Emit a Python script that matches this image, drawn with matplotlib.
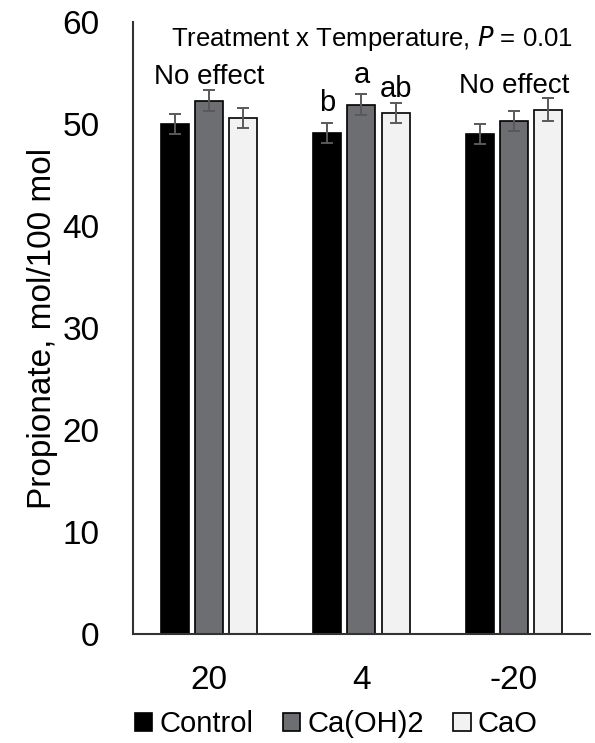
import numpy as np
import matplotlib.pyplot as plt

plt.rcParams['font.family'] = ['Liberation Sans', 'DejaVu Sans']

temperatures = ['20', '4', '-20']
treatments = ['Control', 'Ca(OH)2', 'CaO']
colors = ['#000000', '#6d6e71', '#f2f2f2']

# means per treatment, one value per temperature
means = {
    'Control': [50.0, 49.1, 49.0],
    'Ca(OH)2': [52.3, 51.9, 50.3],
    'CaO': [50.6, 51.1, 51.4],
}
errors = {
    'Control': [1.0, 1.0, 1.0],
    'Ca(OH)2': [1.0, 1.0, 1.0],
    'CaO': [1.0, 1.0, 1.1],
}

# letters over bars at 4 degrees
letters_4 = ['b', 'a', 'ab']

fig = plt.figure(figsize=(5.95, 7.43), dpi=100)
ax = fig.add_axes([0.2235, 0.1467, 0.768, 0.8237])

x = np.arange(len(temperatures))
width = 0.184
step = 0.224
for i, t in enumerate(treatments):
    ax.bar(x + (i - 1) * step, means[t], width, color=colors[i],
           edgecolor='black', linewidth=1.2, label=t, zorder=2)
    ax.errorbar(x + (i - 1) * step, means[t], yerr=errors[t], fmt='none',
                ecolor='#595959', elinewidth=1.4, capsize=4, capthick=1.4,
                zorder=3)

ax.set_ylim(0, 60)
ax.set_xlim(-0.5, 2.5)
ax.set_yticks(range(0, 61, 10))
ax.set_xticks(x)
ax.set_xticklabels(temperatures)
ax.tick_params(axis='both', length=0, labelsize=24)
ax.tick_params(axis='y', pad=24)
ax.tick_params(axis='x', pad=22)
for s in ['top', 'right']:
    ax.spines[s].set_visible(False)
for s in ['left', 'bottom']:
    ax.spines[s].set_color('#333333')
    ax.spines[s].set_linewidth(1.5)

ax.set_ylabel('Propionate, mol/100 mol', fontsize=24)
ax.yaxis.set_label_coords(-0.165, 0.5)

ax.text(1.07, 57.6, 'Treatment x Temperature, $\\it{P}$ = 0.01',
        ha='center', va='baseline', fontsize=18.5)
ax.text(x[0], 53.9, 'No effect', ha='center', va='baseline', fontsize=20)
ax.text(x[2], 53.0, 'No effect', ha='center', va='baseline', fontsize=20)
letter_y = [51.3, 54.0, 52.6]
for i, lab in enumerate(letters_4):
    ax.text(x[1] + (i - 1) * step, letter_y[i], lab, ha='center',
            va='baseline', fontsize=21)

ax.legend(loc='center', bbox_to_anchor=(0.565, 0.025),
          bbox_transform=fig.transFigure, ncol=3, frameon=False,
          fontsize=21, handlelength=0.6, handleheight=0.6,
          handletextpad=0.25, columnspacing=1.0, borderpad=0)

fig.savefig('out.png', dpi=100)
